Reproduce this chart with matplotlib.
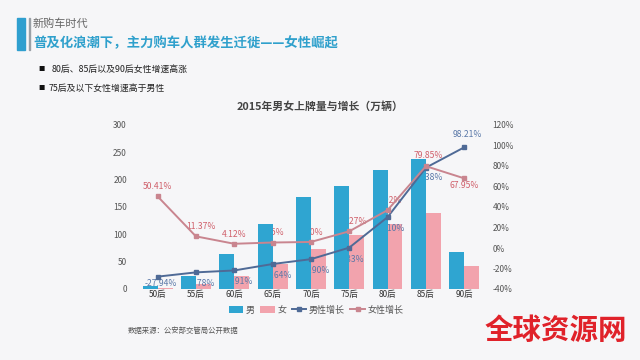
import matplotlib.pyplot as plt
import numpy as np

plt.rcParams['font.family'] = ['Noto Sans CJK SC', 'DejaVu Sans']

# data
categories = ["50后", "55后", "60后", "65后", "70后", "75后", "80后", "85后", "90后"]
male = [6, 24, 64, 119, 168, 188, 218, 238, 68]
female = [2, 10, 24, 46, 73, 99, 119, 139, 42]
male_growth = [-27.94, -23.78, -21.91, -15.64, -10.90, 0.33, 30.10, 78.38, 98.21]
female_growth = [50.41, 11.37, 4.12, 5.35, 5.90, 16.27, 36.92, 79.85, 67.95]

BLUE = "#2fa5d1"
PINK = "#f2a3ad"
MALE_LINE = "#4f6a96"
FEMALE_LINE = "#c9858f"
BG = "#f6f6f8"

fig = plt.figure(figsize=(6.4, 3.6), dpi=100, facecolor=BG)

# header
fig.patches.append(plt.Rectangle((17 / 640, 1 - 50 / 360), 8 / 640, 32 / 360,
                                 transform=fig.transFigure, color="#2f9fcf"))
fig.patches.append(plt.Rectangle((29 / 640, 1 - 50 / 360), 1 / 640, 32 / 360,
                                 transform=fig.transFigure, color="#9aa0a6"))
fig.text(33 / 640, 1 - 24 / 360, "新购车时代", fontsize=8, color="#666666", va="center")
fig.text(33 / 640, 1 - 43 / 360, "普及化浪潮下，主力购车人群发生迁徙——女性崛起",
         fontsize=9.6, color="#2fa0cc", weight="bold", va="center")

# bullets
fig.text(38 / 640, 1 - 69 / 360, "■", fontsize=4.5, color="#111111", va="center")
fig.text(52 / 640, 1 - 69 / 360, "80后、85后以及90后女性增速高涨", fontsize=6.4,
         color="#222222", va="center")
fig.text(38 / 640, 1 - 88 / 360, "■", fontsize=4.5, color="#111111", va="center")
fig.text(49 / 640, 1 - 88 / 360, "75后及以下女性增速高于男性", fontsize=6.4,
         color="#222222", va="center")

# chart
ax = fig.add_axes([138 / 640, 71 / 360, 345 / 640, 164 / 360])
ax.set_facecolor("none")
ax2 = ax.twinx()

x = np.arange(len(categories))
w = 0.39
ax.bar(x - w / 2, male, w, color=BLUE, zorder=3, label="男")
ax.bar(x + w / 2, female, w, color=PINK, zorder=1, label="女")

ax2.plot(x, male_growth, color=MALE_LINE, lw=1.4, marker="s", ms=2.2, label="男性增长")
ax2.plot(x, female_growth, color=FEMALE_LINE, lw=1.4, marker="s", ms=2.2, label="女性增长")

ax.set_xlim(-0.51, 8.49)
ax.set_ylim(0, 300)
ax2.set_ylim(-40, 120)

# growth labels, drawn beneath the blue bars
male_off = [-5, -8, -8, -8.5, -8.5, -8.5, -8.5, -7, 9]
female_off = [7, 7, 7, 7, 7, 7, 7, 8, -5]
female_dx = [0, 4, 0, 0, 0, 2, 0, 2, 0]
for i in range(len(categories)):
    ax.annotate(f"{male_growth[i]:.2f}%", (x[i], male_growth[i]),
                xycoords=ax2.transData, textcoords="offset points",
                xytext=(2, male_off[i]), ha="center", va="center",
                fontsize=6.2, color="#5a78a8", zorder=2)
    ax.annotate(f"{female_growth[i]:.2f}%", (x[i], female_growth[i]),
                xycoords=ax2.transData, textcoords="offset points",
                xytext=(female_dx[i], female_off[i]), ha="center", va="center",
                fontsize=6.2, color="#d0606b", zorder=2)

ax.set_xticks(x)
ax.set_xticklabels(categories)
ax.set_yticks(np.arange(0, 301, 50))
ax2.set_yticks(np.arange(-40, 121, 20))
ax2.set_yticklabels([f"{v}%" for v in range(-40, 121, 20)])
for a in (ax, ax2):
    for s in a.spines.values():
        s.set_visible(False)
    a.tick_params(length=0, labelsize=6, colors="#555555")
ax.tick_params(axis="y", pad=8)
ax.tick_params(axis="x", pad=1, colors="#333333")
ax2.tick_params(axis="y", pad=7)

fig.text(320 / 640, 1 - 107 / 360, "2015年男女上牌量与增长（万辆）", fontsize=7.8,
         weight="bold", color="#444444", ha="center", va="center")

h1, l1 = ax.get_legend_handles_labels()
h2, l2 = ax2.get_legend_handles_labels()
fig.legend(h1 + h2, l1 + l2, loc="center", bbox_to_anchor=(316 / 640, 1 - 310 / 360),
           ncol=4, frameon=False, fontsize=6.5, handlelength=1.6, handletextpad=0.3,
           columnspacing=0.6, labelcolor="#555555")

fig.text(128 / 640, 1 - 331 / 360, "数据来源：公安部交管局公开数据", fontsize=5.3,
         color="#555555", va="center")

fig.text(556 / 640, 1 - 331 / 360, "全球资源网", fontsize=20.5, weight="bold",
         color="#e0222a", ha="center", va="center")

fig.savefig("out.png", dpi=100, facecolor=BG)
